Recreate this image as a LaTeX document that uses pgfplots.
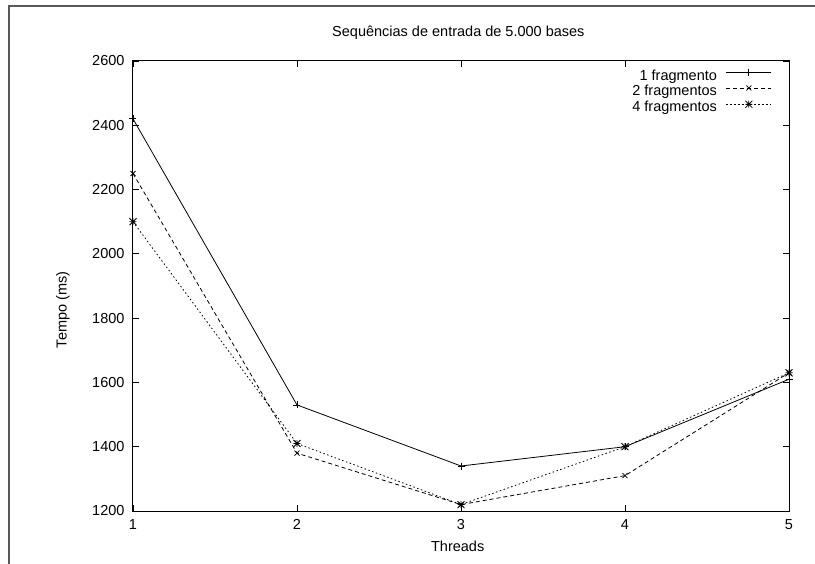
\documentclass[border=0pt]{standalone}
\usepackage{fontspec}
\setmainfont{Liberation Sans}
\usepackage{pgfplots}
\pgfplotsset{compat=1.18}

% gnuplot point type 3: + and x drawn together
\pgfdeclareplotmark{gpstar}{%
  \pgfpathmoveto{\pgfqpoint{-\pgfplotmarksize}{0pt}}%
  \pgfpathlineto{\pgfqpoint{\pgfplotmarksize}{0pt}}%
  \pgfpathmoveto{\pgfqpoint{0pt}{-\pgfplotmarksize}}%
  \pgfpathlineto{\pgfqpoint{0pt}{\pgfplotmarksize}}%
  \pgfpathmoveto{\pgfqpoint{-\pgfplotmarksize}{-\pgfplotmarksize}}%
  \pgfpathlineto{\pgfqpoint{\pgfplotmarksize}{\pgfplotmarksize}}%
  \pgfpathmoveto{\pgfqpoint{-\pgfplotmarksize}{\pgfplotmarksize}}%
  \pgfpathlineto{\pgfqpoint{\pgfplotmarksize}{-\pgfplotmarksize}}%
  \pgfusepathqstroke}

\newcommand{\gpfont}{\fontsize{14.5}{17}\selectfont}

\begin{document}
\begin{tikzpicture}
% page = 815 x 563 px, axis box lower-left at (0,0)
\useasboundingbox (-133pt,-52pt) rectangle (682pt,511pt);
\draw[gray!70!black, line width=1.8pt] (-124pt,-60pt) -- (-124pt,505pt) -- (690pt,505pt);

\begin{axis}[
    scale only axis,
    width=656pt, height=450pt,
    xmin=1, xmax=5, ymin=1200, ymax=2600,
    xtick={1,2,3,4,5},
    ytick={1200,1400,...,2600},
    tick align=inside,
    major tick length=6pt,
    axis line style={line width=1pt},
    every tick/.style={black, line width=0.8pt},
    /pgf/number format/assume math mode=true,
    /pgf/number format/set thousands separator={},
    tick label style={font=\gpfont},
    xticklabel style={yshift=-5pt},
    yticklabel style={xshift=-5pt},
    title={Sequências de entrada de 5.000 bases},
    title style={font=\gpfont, at={(axis description cs:0.496,1)}, anchor=base, yshift=18pt},
    xlabel={Threads},
    xlabel style={font=\gpfont, at={(axis description cs:0.495,0)}, anchor=base, yshift=-40pt},
    ylabel={Tempo (ms)},
    ylabel style={font=\gpfont, at={(axis description cs:-0.1067,0.4467)}, anchor=center},
    legend style={draw=none, fill=none, at={(axis description cs:0.974,0.9827)}, anchor=north east,
        font=\gpfont, inner sep=0pt, row sep=0pt,
        nodes={inner sep=0pt, text height=10.5pt, text depth=5pt},
        /tikz/every odd column/.append style={column sep=9pt}},
    legend cell align=right,
    legend plot pos=right,
    legend image code/.code={%
        \path (0pt,0pt);
        \draw[mark repeat=2, mark phase=2, #1]
            plot coordinates {(0pt,5pt) (22.5pt,5pt) (45pt,5pt)};},
    every axis plot/.append style={line width=0.8pt, mark size=3.5pt, mark options={solid}},
]
\addplot[black, solid, mark=+] coordinates {
    (1,2420) (2,1530) (3,1340) (4,1400) (5,1610)
};
\addlegendentry{1 fragmento}
\addplot[black, dash pattern=on 4pt off 3pt, mark=x] coordinates {
    (1,2250) (2,1380) (3,1220) (4,1310) (5,1630)
};
\addlegendentry{2 fragmentos}
\addplot[black, dash pattern=on 1.5pt off 2.5pt, mark=gpstar] coordinates {
    (1,2100) (2,1410) (3,1220) (4,1400) (5,1630)
};
\addlegendentry{4 fragmentos}
\end{axis}
\end{tikzpicture}
\end{document}
